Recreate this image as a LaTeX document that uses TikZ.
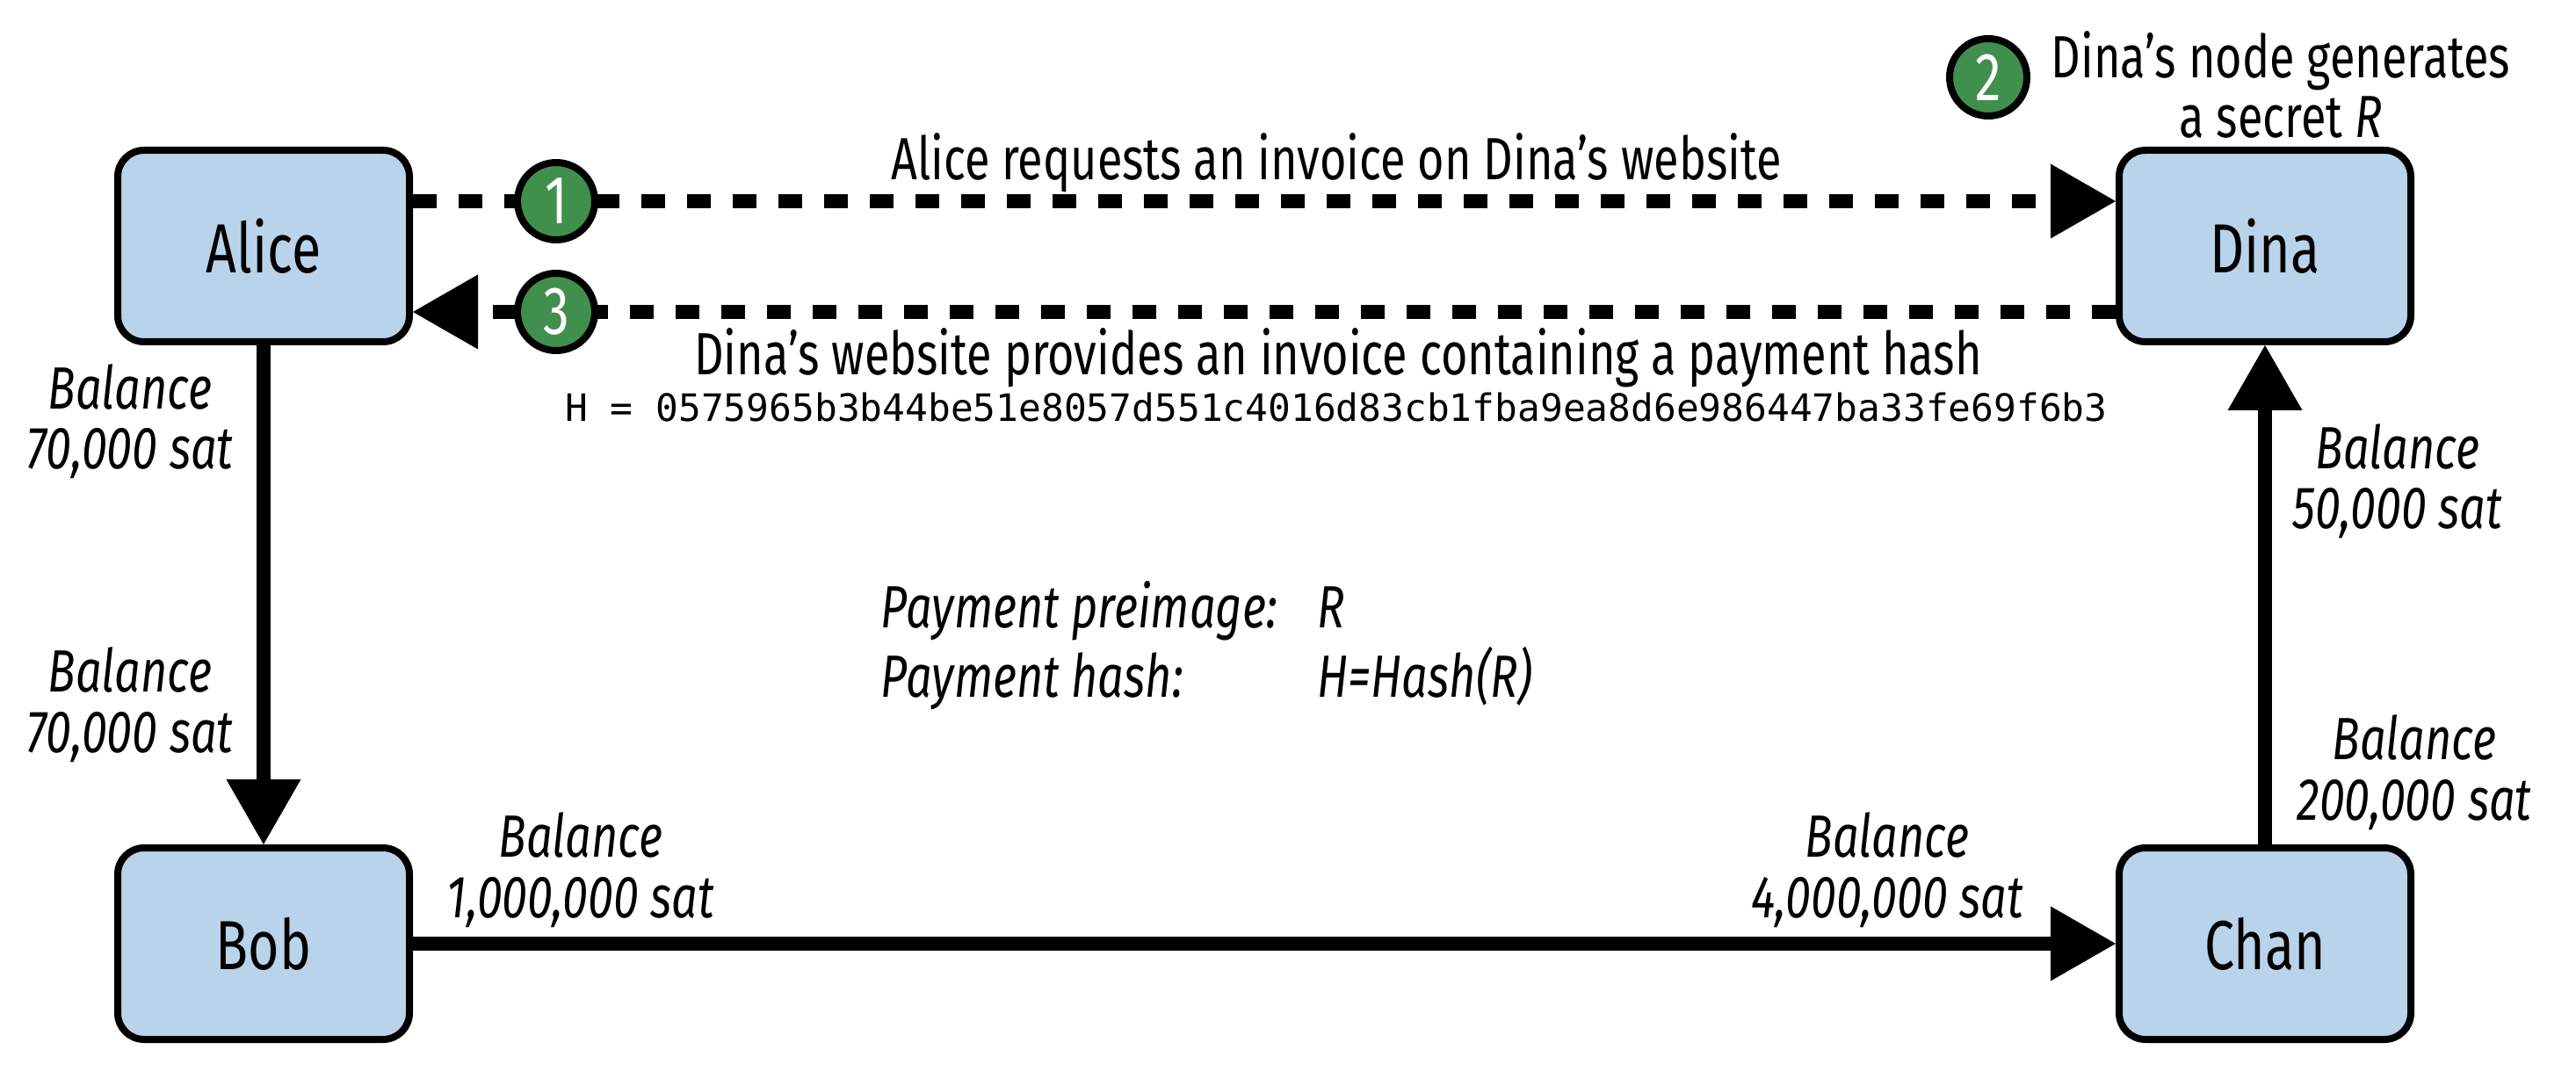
\documentclass[tikz,border=0pt]{standalone}
\usepackage{fontspec}
\setmainfont{Fira Sans}[FakeStretch=0.77]
\setmonofont{DejaVu Sans Mono}
\usetikzlibrary{
    arrows.meta,
    positioning
}
\definecolor{ink}{RGB}{0,0,0}
\definecolor{partyfill}{RGB}{185,212,234}
\definecolor{stepgreen}{RGB}{64,143,77}
\tikzset{
    party/.style={
        rectangle,
        draw=ink,
        line width=0.08cm,
        fill=partyfill,
        rounded corners=0.3cm,
        minimum width=3.32cm,
        minimum height=2.18cm,
        font=\fontsize{22.5}{24}\selectfont,
        text=ink
    },
    badge/.style={
        circle,
        draw=ink,
        line width=0.08cm,
        fill=stepgreen,
        minimum size=0.88cm,
        inner sep=0pt,
        text=white,
        font=\fontsize{22}{24}\selectfont
    },
    channel/.style={
        ->,
        >={Triangle[length=0.74cm, width=0.85cm, line width=0pt]},
        draw=ink,
        line width=0.16cm
    },
    request/.style={
        channel,
        dash pattern=on 0.27cm off 0.25cm
    },
    msg/.style={
        font=\fontsize{19.3}{19.6}\selectfont,
        text=ink,
        inner sep=0pt,
        anchor=base,
        align=center
    },
    balance/.style={
        msg,
        font=\fontsize{19.3}{19.6}\selectfont\itshape
    },
    hashtext/.style={
        font=\ttfamily\fontsize{12.2}{14}\selectfont,
        text=ink,
        inner sep=0pt,
        anchor=base
    }
}
\begin{document}
\begin{tikzpicture}
    \useasboundingbox (0,0) rectangle (29.32,-12.36);

    % Parties
    \node[party] (alice) at (3.00,-2.80) {Alice};
    \node[party] (dina) at (25.78,-2.80) {Dina};
    \node[party] (bob) at (3.00,-10.74) {Bob};
    \node[party] (chan) at (25.78,-10.74) {Chan};

    % Invoice exchange
    \draw[request] ([yshift=0.51cm]alice.east) -- ([yshift=0.51cm]dina.west);
    \draw[request] ([yshift=-0.75cm]dina.west) -- ([yshift=-0.75cm]alice.east);

    \node[badge] (step1) at (6.33,-2.29) {1};
    \node[badge] (step3) at (6.33,-3.55) {3};
    \node[badge] (step2) at (22.63,-0.88) {2};

    \node[msg] (reqtext) at (15.21,-2.05) {Alice requests an invoice on Dina’s website};
    \node[msg] (invtext) at (15.23,-4.27) {Dina’s website provides an invoice containing a payment hash};
    \node[hashtext] (hashval) at (15.21,-4.80) {H = 0575965b3b44be51e8057d551c4016d83cb1fba9ea8d6e986447ba33fe69f6b3};
    \node[msg] (secret) at (25.96,-1.57) {Dina’s node generates\\a secret \textit{R}};

    % Payment channels
    \draw[channel] (alice) -- (bob);
    \draw[channel] (bob) -- (chan);
    \draw[channel] (chan) -- (dina);

    % Channel balances (base = last line)
    \node[balance] (balA) at (1.48,-5.34) {Balance\\70,000 sat};
    \node[balance] (balB1) at (1.48,-8.56) {Balance\\70,000 sat};
    \node[balance] (balB2) at (6.61,-10.44) {Balance\\1,000,000 sat};
    \node[balance] (balC1) at (21.48,-10.44) {Balance\\4,000,000 sat};
    \node[balance] (balC2) at (27.48,-9.33) {Balance\\200,000 sat};
    \node[balance] (balD) at (27.29,-6.02) {Balance\\50,000 sat};

    \node[balance, anchor=base west] (payment) at (10.02,-7.15) {%
        \begin{tabular}[t]{@{}p{4.97cm}@{}l@{}}
            Payment preimage: & R\\
            Payment hash: & H=Hash(R)
        \end{tabular}};

\end{tikzpicture}
\end{document}
